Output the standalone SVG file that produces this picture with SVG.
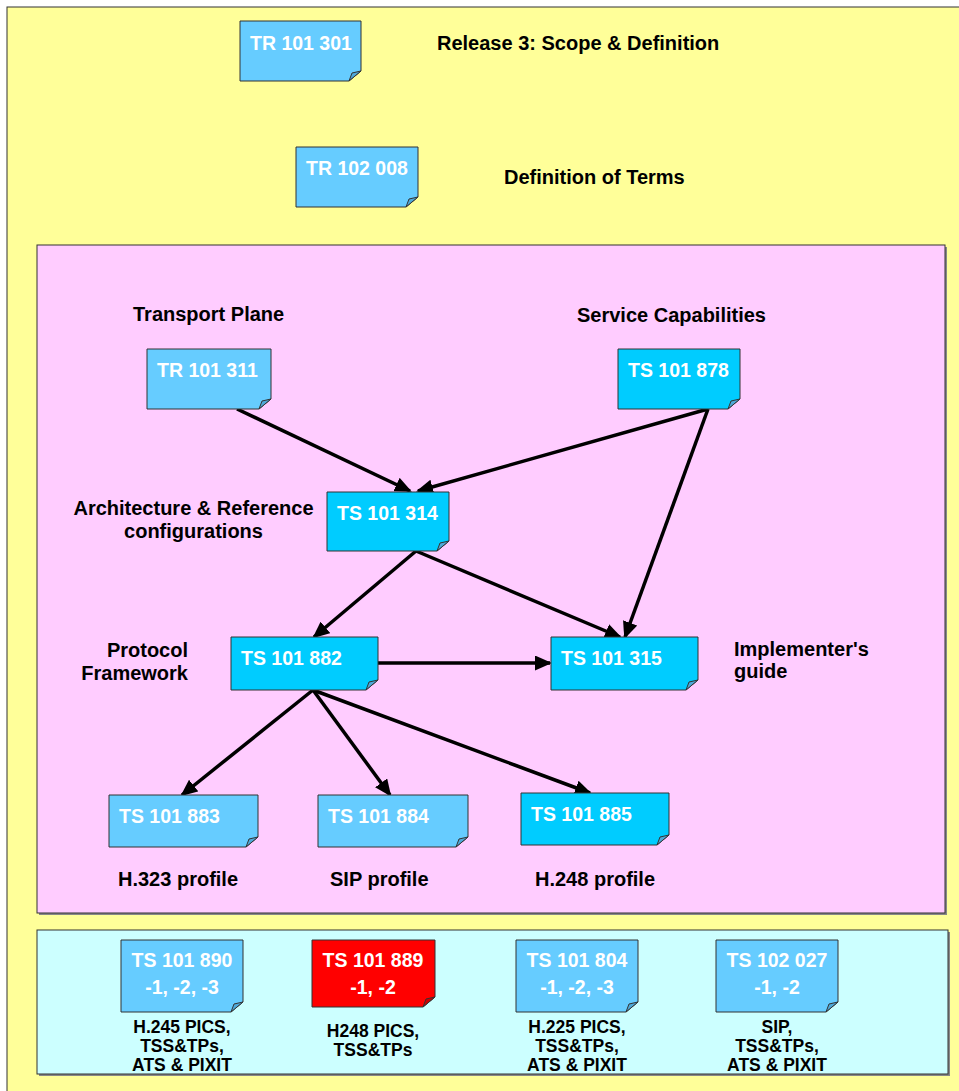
<svg xmlns="http://www.w3.org/2000/svg" width="959" height="1091" viewBox="0 0 959 1091">
<style>
.t{font-family:"Liberation Sans",Arial,sans-serif;font-weight:bold;font-size:20px;fill:#000}
.n{font-family:"Liberation Sans",Arial,sans-serif;font-weight:bold;font-size:19.5px;fill:#fff}
.s{font-family:"Liberation Sans",Arial,sans-serif;font-weight:bold;font-size:17.5px;fill:#000;text-anchor:middle}
.c{text-anchor:middle}
.doc{stroke:#333;stroke-width:1}
.b1{fill:#66CCFF}
.b2{fill:#00CCFF}
.red{fill:#FF0000}
.fold{stroke:#333;stroke-width:1;fill:#4FA8D8}
.foldr{stroke:#333;stroke-width:1;fill:#CC0000}
.arr{stroke:#000;stroke-width:3.5;fill:none;marker-end:url(#ah)}
</style>
<defs>
<marker id="ah" markerUnits="userSpaceOnUse" markerWidth="17" markerHeight="15" refX="15" refY="7.5" orient="auto" viewBox="0 0 17 15">
<path d="M0,0 L17,7.5 L0,15 Z" fill="#000"/>
</marker>
</defs>
<g id="background">
<rect x="7" y="7" width="960" height="1090" fill="#FFFF99" stroke="#333" stroke-width="1"/>
<rect x="39" y="247" width="908" height="668" fill="#888"/>
<rect x="37" y="245" width="908" height="668" fill="#FFCCFF" stroke="#333" stroke-width="1"/>
<rect x="39" y="932" width="911" height="144" fill="#888"/>
<rect x="37" y="930" width="911" height="144" fill="#CCFFFF" stroke="#333" stroke-width="1"/>
</g>
<g id="labels">
<text class="t" x="437" y="50">Release 3: Scope &amp; Definition</text>
<text class="t" x="504" y="184">Definition of Terms</text>
<text class="t" x="133" y="321">Transport Plane</text>
<text class="t" x="577" y="322">Service Capabilities</text>
<text class="t c" x="193.5" y="515">Architecture &amp; Reference</text>
<text class="t c" x="193.5" y="538">configurations</text>
<text class="t" x="188" y="657" text-anchor="end">Protocol</text>
<text class="t" x="188" y="680" text-anchor="end">Framework</text>
<text class="t" x="734" y="656">Implementer's</text>
<text class="t" x="734" y="678">guide</text>
<text class="t" x="118" y="886">H.323 profile</text>
<text class="t" x="330" y="886">SIP profile</text>
<text class="t" x="535" y="886">H.248 profile</text>
</g>
<g id="connectors">
<line class="arr" x1="237" y1="409" x2="410" y2="491"/>
<line class="arr" x1="708" y1="409" x2="418" y2="491"/>
<line class="arr" x1="708" y1="409" x2="625" y2="637"/>
<line class="arr" x1="416" y1="551" x2="314" y2="637"/>
<line class="arr" x1="416" y1="551" x2="620" y2="637"/>
<line class="arr" x1="378" y1="663" x2="550" y2="663"/>
<line class="arr" x1="313" y1="690" x2="182" y2="795"/>
<line class="arr" x1="313" y1="690" x2="390" y2="795"/>
<line class="arr" x1="313" y1="690" x2="590" y2="793"/>
</g>
<g id="n_tr101301">
<path class="doc b1" d="M240,21 H361 V71 L349,81 H240 Z"/>
<path class="fold" d="M349,81 L352,73 L361,71 Z"/>
<text class="n" x="250" y="50">TR 101 301</text>
</g>
<g id="n_tr102008">
<path class="doc b1" d="M296,147 H418 V197 L406,207 H296 Z"/>
<path class="fold" d="M406,207 L409,199 L418,197 Z"/>
<text class="n" x="306" y="175">TR 102 008</text>
</g>
<g id="n_tr101311">
<path class="doc b1" d="M147,349 H271 V399 L259,409 H147 Z"/>
<path class="fold" d="M259,409 L262,401 L271,399 Z"/>
<text class="n" x="157" y="377">TR 101 311</text>
</g>
<g id="n_ts101878">
<path class="doc b2" d="M618,349 H740 V399 L728,409 H618 Z"/>
<path class="fold" d="M728,409 L731,401 L740,399 Z"/>
<text class="n" x="628" y="377">TS 101 878</text>
</g>
<g id="n_ts101314">
<path class="doc b2" d="M327,492 H449 V541 L437,551 H327 Z"/>
<path class="fold" d="M437,551 L440,543 L449,541 Z"/>
<text class="n" x="337" y="520">TS 101 314</text>
</g>
<g id="n_ts101882">
<path class="doc b2" d="M231,637 H378 V680 L366,690 H231 Z"/>
<path class="fold" d="M366,690 L369,682 L378,680 Z"/>
<text class="n" x="241" y="665">TS 101 882</text>
</g>
<g id="n_ts101315">
<path class="doc b2" d="M551,637 H698 V680 L686,690 H551 Z"/>
<path class="fold" d="M686,690 L689,682 L698,680 Z"/>
<text class="n" x="561" y="665">TS 101 315</text>
</g>
<g id="n_ts101883">
<path class="doc b1" d="M109,795 H258 V837 L246,847 H109 Z"/>
<path class="fold" d="M246,847 L249,839 L258,837 Z"/>
<text class="n" x="119" y="823">TS 101 883</text>
</g>
<g id="n_ts101884">
<path class="doc b1" d="M318,795 H468 V837 L456,847 H318 Z"/>
<path class="fold" d="M456,847 L459,839 L468,837 Z"/>
<text class="n" x="328" y="823">TS 101 884</text>
</g>
<g id="n_ts101885">
<path class="doc b2" d="M521,793 H669 V835 L657,845 H521 Z"/>
<path class="fold" d="M657,845 L660,837 L669,835 Z"/>
<text class="n" x="531" y="821">TS 101 885</text>
</g>
<g id="n_ts101890">
<path class="doc b1" d="M121,940 H243 V1002 L231,1012 H121 Z"/>
<path class="fold" d="M231,1012 L234,1004 L243,1002 Z"/>
<text class="n c" x="182" y="967">TS 101 890</text>
<text class="n c" x="182" y="994">-1, -2, -3</text>
<text class="s" x="182" y="1033">H.245 PICS,</text>
<text class="s" x="182" y="1052">TSS&amp;TPs,</text>
<text class="s" x="182" y="1071">ATS &amp; PIXIT</text>
</g>
<g id="n_ts101889">
<path class="doc red" d="M312,940 H435 V997 L423,1007 H312 Z"/>
<path class="foldr" d="M423,1007 L426,999 L435,997 Z"/>
<text class="n c" x="373" y="967">TS 101 889</text>
<text class="n c" x="373" y="994">-1, -2</text>
<text class="s" x="373" y="1037">H248 PICS,</text>
<text class="s" x="373" y="1056">TSS&amp;TPs</text>
</g>
<g id="n_ts101804">
<path class="doc b1" d="M516,940 H638 V1002 L626,1012 H516 Z"/>
<path class="fold" d="M626,1012 L629,1004 L638,1002 Z"/>
<text class="n c" x="577" y="967">TS 101 804</text>
<text class="n c" x="577" y="994">-1, -2, -3</text>
<text class="s" x="577" y="1033">H.225 PICS,</text>
<text class="s" x="577" y="1052">TSS&amp;TPs,</text>
<text class="s" x="577" y="1071">ATS &amp; PIXIT</text>
</g>
<g id="n_ts102027">
<path class="doc b1" d="M716,940 H838 V1002 L826,1012 H716 Z"/>
<path class="fold" d="M826,1012 L829,1004 L838,1002 Z"/>
<text class="n c" x="777" y="967">TS 102 027</text>
<text class="n c" x="777" y="994">-1, -2</text>
<text class="s" x="777" y="1033">SIP,</text>
<text class="s" x="777" y="1052">TSS&amp;TPs,</text>
<text class="s" x="777" y="1071">ATS &amp; PIXIT</text>
</g>
</svg>
